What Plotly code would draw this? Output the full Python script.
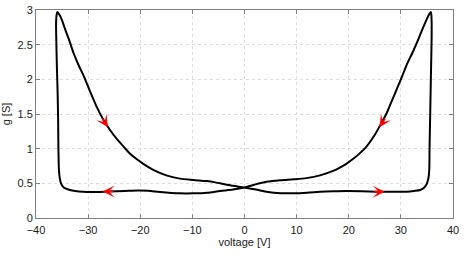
import math
import plotly.graph_objects as go

# Upper-left branch (left peak -> crossing)
v_up_left = [-35.9, -35.5, -35.0, -34.4, -33.7, -32.8, -31.8, -30.8, -29.6, -28.4, -27.1, -25.8,
             -24.5, -23.2, -22.0, -20.7, -19.2, -17.5, -15.0, -12.4, -9.8, -7.2, -4.7, -2.2, 0.0]
g_up_left = [2.97, 2.93, 2.85, 2.72, 2.58, 2.38, 2.20, 2.04, 1.82, 1.61, 1.42, 1.27,
             1.14, 1.03, 0.93, 0.85, 0.77, 0.695, 0.615, 0.568, 0.548, 0.532, 0.50, 0.465, 0.44]

# Lower-right branch (crossing -> right vertical -> right peak)
v_low_right = [2.2, 4.5, 7.0, 9.5, 12.0, 14.5, 17.0, 19.6, 22.5, 25.4, 28.0, 31.1, 32.5, 33.7,
               34.5, 35.0, 35.3, 35.45, 35.5, 35.6, 35.7, 35.8, 35.9, 35.9, 35.85, 35.75]
g_low_right = [0.41, 0.375, 0.358, 0.356, 0.364, 0.378, 0.386, 0.39, 0.387, 0.38, 0.378, 0.38, 0.39, 0.404,
               0.44, 0.50, 0.58, 0.70, 1.0, 1.4, 1.8, 2.2, 2.6, 2.82, 2.92, 2.97]

# Upper-right branch (right peak -> crossing)
v_up_right = [35.3, 34.8, 34.0, 33.2, 32.2, 31.3, 30.0, 29.0, 28.1, 27.2, 26.2, 25.0, 23.4, 22.0,
              20.8, 19.6, 18.3, 17.0, 14.5, 11.9, 9.4, 6.8, 4.2, 1.7, 0.0]
g_up_right = [2.92, 2.84, 2.70, 2.55, 2.38, 2.24, 2.00, 1.82, 1.66, 1.50, 1.36, 1.20, 1.03, 0.925,
              0.85, 0.785, 0.728, 0.68, 0.615, 0.575, 0.558, 0.546, 0.522, 0.476, 0.44]

# Lower-left branch (crossing -> left vertical -> left peak)
v_low_left = [-2.2, -4.7, -7.2, -9.8, -12.4, -16.2, -18.5, -20.5, -23.0, -26.0, -29.0, -31.0, -32.5,
              -33.8, -34.7, -35.2, -35.45, -35.6, -35.7, -35.75, -35.85, -36.0, -36.1, -36.15, -36.05, -35.9]
g_low_left = [0.41, 0.39, 0.365, 0.356, 0.356, 0.375, 0.393, 0.396, 0.39, 0.383, 0.375, 0.378, 0.39,
              0.41, 0.44, 0.50, 0.58, 0.70, 1.0, 1.4, 1.8, 2.2, 2.55, 2.80, 2.93, 2.97]

# Direction arrows (tip position, direction in screen degrees, 0 = right, ccw positive)
arrow_v = [-26.2, 25.9, -27.2, 26.9]
arrow_g = [1.31, 1.31, 0.383, 0.38]
arrow_dir = [-57, -123, 180, 0]

x_ticks = [-40, -30, -20, -10, 0, 10, 20, 30, 40]
y_ticks = [0, 0.5, 1, 1.5, 2, 2.5, 3]

v_all = v_up_left + v_low_right + v_up_right + v_low_left
g_all = g_up_left + g_low_right + g_up_right + g_low_left

FONT = "Liberation Sans, Arial, Helvetica"

fig = go.Figure()
fig.add_trace(go.Scatter(x=v_all, y=g_all, mode="lines",
                         line=dict(color="black", width=2, shape="spline", smoothing=0.8),
                         hoverinfo="skip", showlegend=False))

L = 12
for v, g, d in zip(arrow_v, arrow_g, arrow_dir):
    rad = math.radians(d)
    fig.add_annotation(x=v, y=g, xref="x", yref="y", showarrow=True,
                       ax=-L * math.cos(rad), ay=L * math.sin(rad),
                       arrowhead=3, arrowsize=1.25, arrowwidth=1.6, arrowcolor="red",
                       standoff=0, startstandoff=0, text="")

axis_common = dict(showline=True, linecolor="#808080", linewidth=1, mirror="ticks",
                   ticks="inside", ticklen=4, tickcolor="#808080", automargin=False,
                   showgrid=True, gridcolor="#dcdcdc", griddash="dot", gridwidth=1,
                   zeroline=False, tickfont=dict(family=FONT, size=11, color="#1a1a1a"))

fig.update_xaxes(range=[-40, 40], tickvals=x_ticks, **axis_common, ticklabelstandoff=2,
                 title=dict(text="voltage [V]", font=dict(family=FONT, size=11, color="#1a1a1a"),
                            standoff=0))
fig.update_yaxes(range=[0, 3], tickvals=y_ticks, **axis_common,
                 title=dict(text="g [S]", font=dict(family=FONT, size=11, color="#1a1a1a"),
                            standoff=6))

fig.update_layout(width=471, height=256, margin=dict(l=36, r=18, t=10, b=38, autoexpand=False),
                  plot_bgcolor="white", paper_bgcolor="white")

fig.write_html("out.html", config={"displayModeBar": False},
               post_script="document.body.style.margin='0px';")
